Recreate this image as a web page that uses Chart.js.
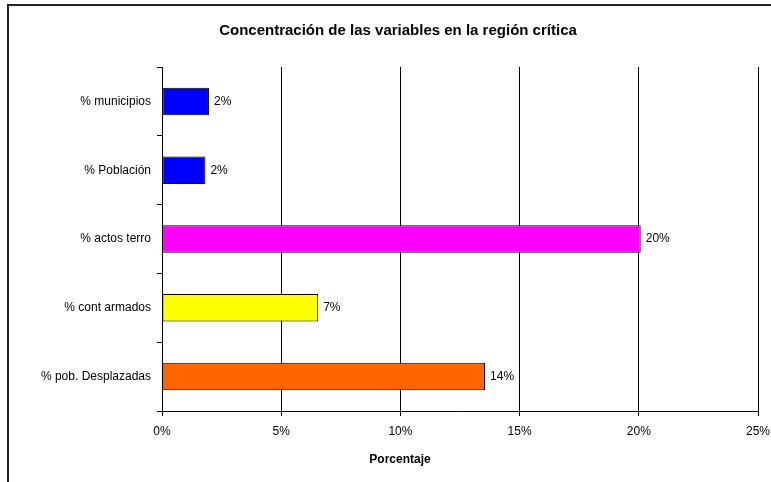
<!DOCTYPE html>
<html>
<head>
<meta charset="utf-8">
<script src="https://cdn.jsdelivr.net/npm/chart.js@4.4.0/dist/chart.umd.min.js"></script>
<style>
  html, body { margin: 0; padding: 0; background: #fff; }
  #wrap { width: 771px; height: 482px; position: relative; }
</style>
</head>
<body>
<div id="wrap"><canvas id="chart" width="771" height="482"></canvas></div>
<script>
// Concentración de las variables en la región crítica
const categories = ['% municipios', '% Población', '% actos terro', '% cont armados', '% pob. Desplazadas'];
const values = [1.97, 1.82, 20.08, 6.55, 13.55];
const valueLabels = ['2%', '2%', '20%', '7%', '14%'];
const barColors = ['#0000FF', '#0000FF', '#FF00FF', '#FFFF00', '#FF6600'];
const xTicks = [0, 5, 10, 15, 20, 25];

const FONT = 'Arial, "Liberation Sans", sans-serif';
Chart.defaults.font.family = FONT;
Chart.defaults.color = '#000';

// outer frame, chart title, axis title
const framePlugin = {
    id: 'frame',
    beforeDraw(chart) {
        const ctx = chart.ctx;
        ctx.save();
        ctx.fillStyle = '#fff';
        ctx.fillRect(0, 0, chart.width, chart.height);
        ctx.strokeStyle = '#222';
        ctx.lineWidth = 2;
        ctx.beginPath();
        ctx.moveTo(8, chart.height);
        ctx.lineTo(8, 5);
        ctx.lineTo(chart.width, 5);
        ctx.stroke();
        ctx.fillStyle = '#000';
        ctx.font = 'bold 15px ' + FONT;
        ctx.textAlign = 'center';
        ctx.textBaseline = 'middle';
        ctx.fillText('Concentración de las variables en la región crítica', 398, 31);
        ctx.font = 'bold 12px ' + FONT;
        ctx.fillText('Porcentaje', 400, 460);
        ctx.restore();
    }
};

// value labels at the end of each bar
const labelPlugin = {
    id: 'barLabels',
    afterDatasetsDraw(chart) {
        const ctx = chart.ctx;
        const meta = chart.getDatasetMeta(0);
        ctx.save();
        ctx.fillStyle = '#000';
        ctx.font = '12px ' + FONT;
        ctx.textAlign = 'left';
        ctx.textBaseline = 'middle';
        meta.data.forEach((bar, i) => {
            ctx.fillText(valueLabels[i], bar.x + 5, bar.y);
        });
        ctx.restore();
    }
};

new Chart(document.getElementById('chart'), {
    type: 'bar',
    data: {
        labels: categories,
        datasets: [{
            data: values,
            backgroundColor: barColors,
            borderColor: '#000',
            borderWidth: 1,
            borderSkipped: false,
            categoryPercentage: 1,
            barPercentage: 0.4
        }]
    },
    options: {
        indexAxis: 'y',
        responsive: false,
        animation: false,
        layout: { padding: { top: 67, right: 13, left: 0, bottom: 0 } },
        plugins: {
            legend: { display: false },
            title: { display: false },
            tooltip: { enabled: false }
        },
        scales: {
            x: {
                min: 0,
                max: 25,
                afterBuildTicks(scale) {
                    scale.ticks = xTicks.map(v => ({ value: v }));
                },
                afterFit(scale) {
                    scale.height = 71;
                    scale.paddingLeft = 0;
                    scale.paddingRight = 0;
                },
                grid: {
                    color: '#000',
                    lineWidth: 1,
                    drawOnChartArea: true,
                    drawTicks: true,
                    tickLength: 5
                },
                border: { display: true, color: '#000', width: 1 },
                ticks: {
                    font: { size: 12 },
                    padding: 8,
                    callback: v => v + '%'
                }
            },
            y: {
                afterFit(scale) { scale.width = 162; },
                grid: {
                    offset: true,
                    color: '#000',
                    drawOnChartArea: false,
                    drawTicks: true,
                    tickLength: 5
                },
                border: { display: true, color: '#000', width: 1 },
                ticks: {
                    font: { size: 12 },
                    padding: 6
                }
            }
        }
    },
    plugins: [framePlugin, labelPlugin]
});
</script>
</body>
</html>
